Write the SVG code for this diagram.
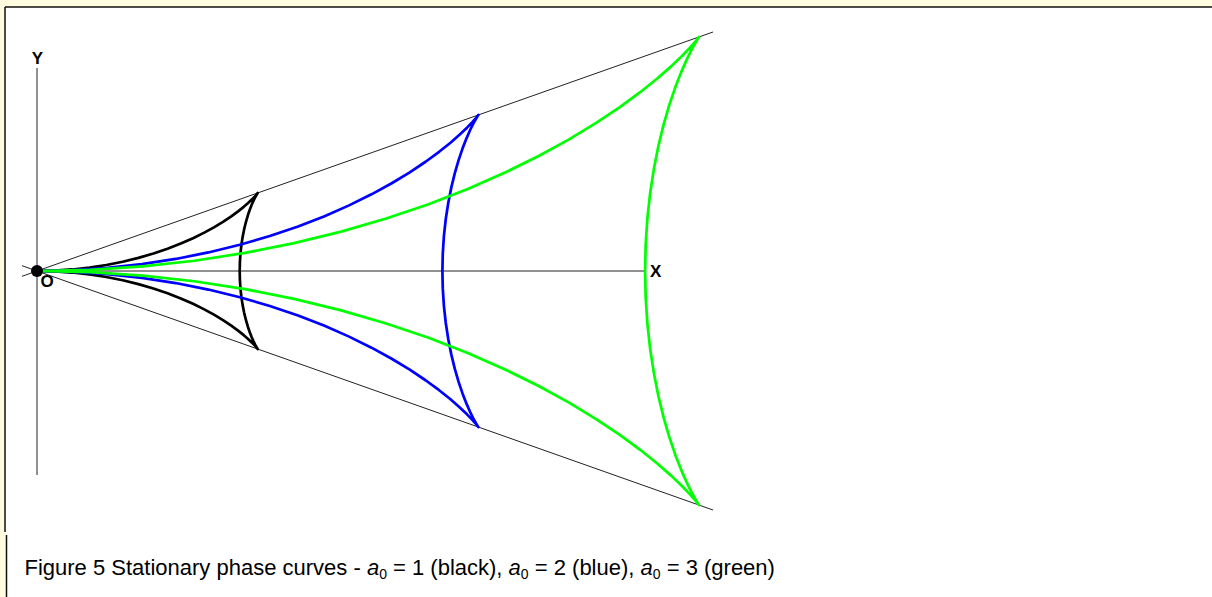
<svg xmlns="http://www.w3.org/2000/svg" xmlns:xlink="http://www.w3.org/1999/xlink" width="1212" height="597" viewBox="0 0 1212 597">
<style>
.thin{stroke:#222;stroke-width:1;fill:none}
.crv{fill:none;stroke-linejoin:round;stroke-linecap:round}
.lbl{font-family:"Liberation Sans",Arial,sans-serif;font-weight:bold;font-size:17px;fill:#000}
.cap{font-family:"Liberation Sans",Arial,sans-serif;font-size:22px;fill:#000}
</style>
<defs>
<path id="unit" d="M0,0 L8.716,-0.190 L17.366,-0.757 L25.884,-1.689 L34.206,-2.970 L42.274,-4.574 L50.030,-6.471 L57.423,-8.624 L64.403,-10.992 L70.932,-13.530 L76.976,-16.187 L82.505,-18.912 L87.5,-21.651 L91.949,-24.348 L95.844,-26.949 L99.192,-29.401 L101.999,-31.651 L104.282,-33.651 L106.066,-35.355 L107.379,-36.724 L108.256,-37.720 L108.736,-38.316 L108.866,-38.490 L108.687,-38.219 L108.253,-37.5 L107.613,-36.330 L106.818,-34.714 L105.918,-32.664 L104.962,-30.201 L103.996,-27.352 L103.063,-24.148 L102.203,-20.630 L101.451,-16.841 L100.833,-12.831 L100.376,-8.650 L100.095,-4.354 L100,0 L100.095,4.354 L100.376,8.650 L100.833,12.831 L101.451,16.841 L102.203,20.630 L103.063,24.148 L103.996,27.352 L104.962,30.201 L105.918,32.664 L106.818,34.714 L107.613,36.330 L108.253,37.5 L108.687,38.219 L108.866,38.490 L108.736,38.316 L108.256,37.720 L107.379,36.724 L106.066,35.355 L104.282,33.651 L101.999,31.651 L99.192,29.401 L95.844,26.949 L91.949,24.348 L87.5,21.651 L82.505,18.912 L76.976,16.187 L70.932,13.530 L64.403,10.992 L57.423,8.624 L50.030,6.471 L42.274,4.574 L34.206,2.970 L25.884,1.689 L17.366,0.757 L8.716,0.190 Z"/>
</defs>
<g id="frame">
<rect x="0" y="0" width="1212" height="597" fill="#fffce0"/>
<rect x="6" y="7.5" width="1206" height="589.5" fill="#ffffff"/>
<line x1="5" y1="7" x2="1212" y2="7" stroke="#111" stroke-width="1.6"/>
<line x1="5" y1="7" x2="5" y2="532" stroke="#111" stroke-width="1.5"/>
<line x1="6.5" y1="535" x2="6.5" y2="597" stroke="#111" stroke-width="1.5"/>
</g>
<g id="axes">
<line class="thin" x1="37" y1="68" x2="37" y2="475"/>
<line class="thin" x1="37" y1="271" x2="645" y2="271"/>
<line class="thin" x1="22" y1="276.3" x2="713" y2="32"/>
<line class="thin" x1="22" y1="265.7" x2="713" y2="510"/>
<text class="lbl" x="37.5" y="64" text-anchor="middle">Y</text>
<text class="lbl" x="650" y="277">X</text>
<text class="lbl" x="40.5" y="287">O</text>
</g>
<g id="curve-black">
<use xlink:href="#unit" class="crv" stroke="#000000" stroke-width="1.33" transform="translate(37,271) scale(2.027)"/>
</g>
<g id="curve-blue">
<use xlink:href="#unit" class="crv" stroke="#0000ff" stroke-width="0.67" transform="translate(37,271) scale(4.054)"/>
</g>
<g id="curve-green">
<use xlink:href="#unit" class="crv" stroke="#00ff00" stroke-width="0.445" transform="translate(37,271) scale(6.081)"/>
</g>
<circle id="origin" cx="37" cy="271" r="6" fill="#000"/>
<text id="caption" class="cap" x="24.5" y="575">Figure 5 Stationary phase curves - <tspan font-style="italic">a</tspan><tspan font-size="14" dy="4">0</tspan><tspan dy="-4"> = 1 (black), </tspan><tspan font-style="italic">a</tspan><tspan font-size="14" dy="4">0</tspan><tspan dy="-4"> = 2 (blue), </tspan><tspan font-style="italic">a</tspan><tspan font-size="14" dy="4">0</tspan><tspan dy="-4"> = 3 (green)</tspan></text>
</svg>
